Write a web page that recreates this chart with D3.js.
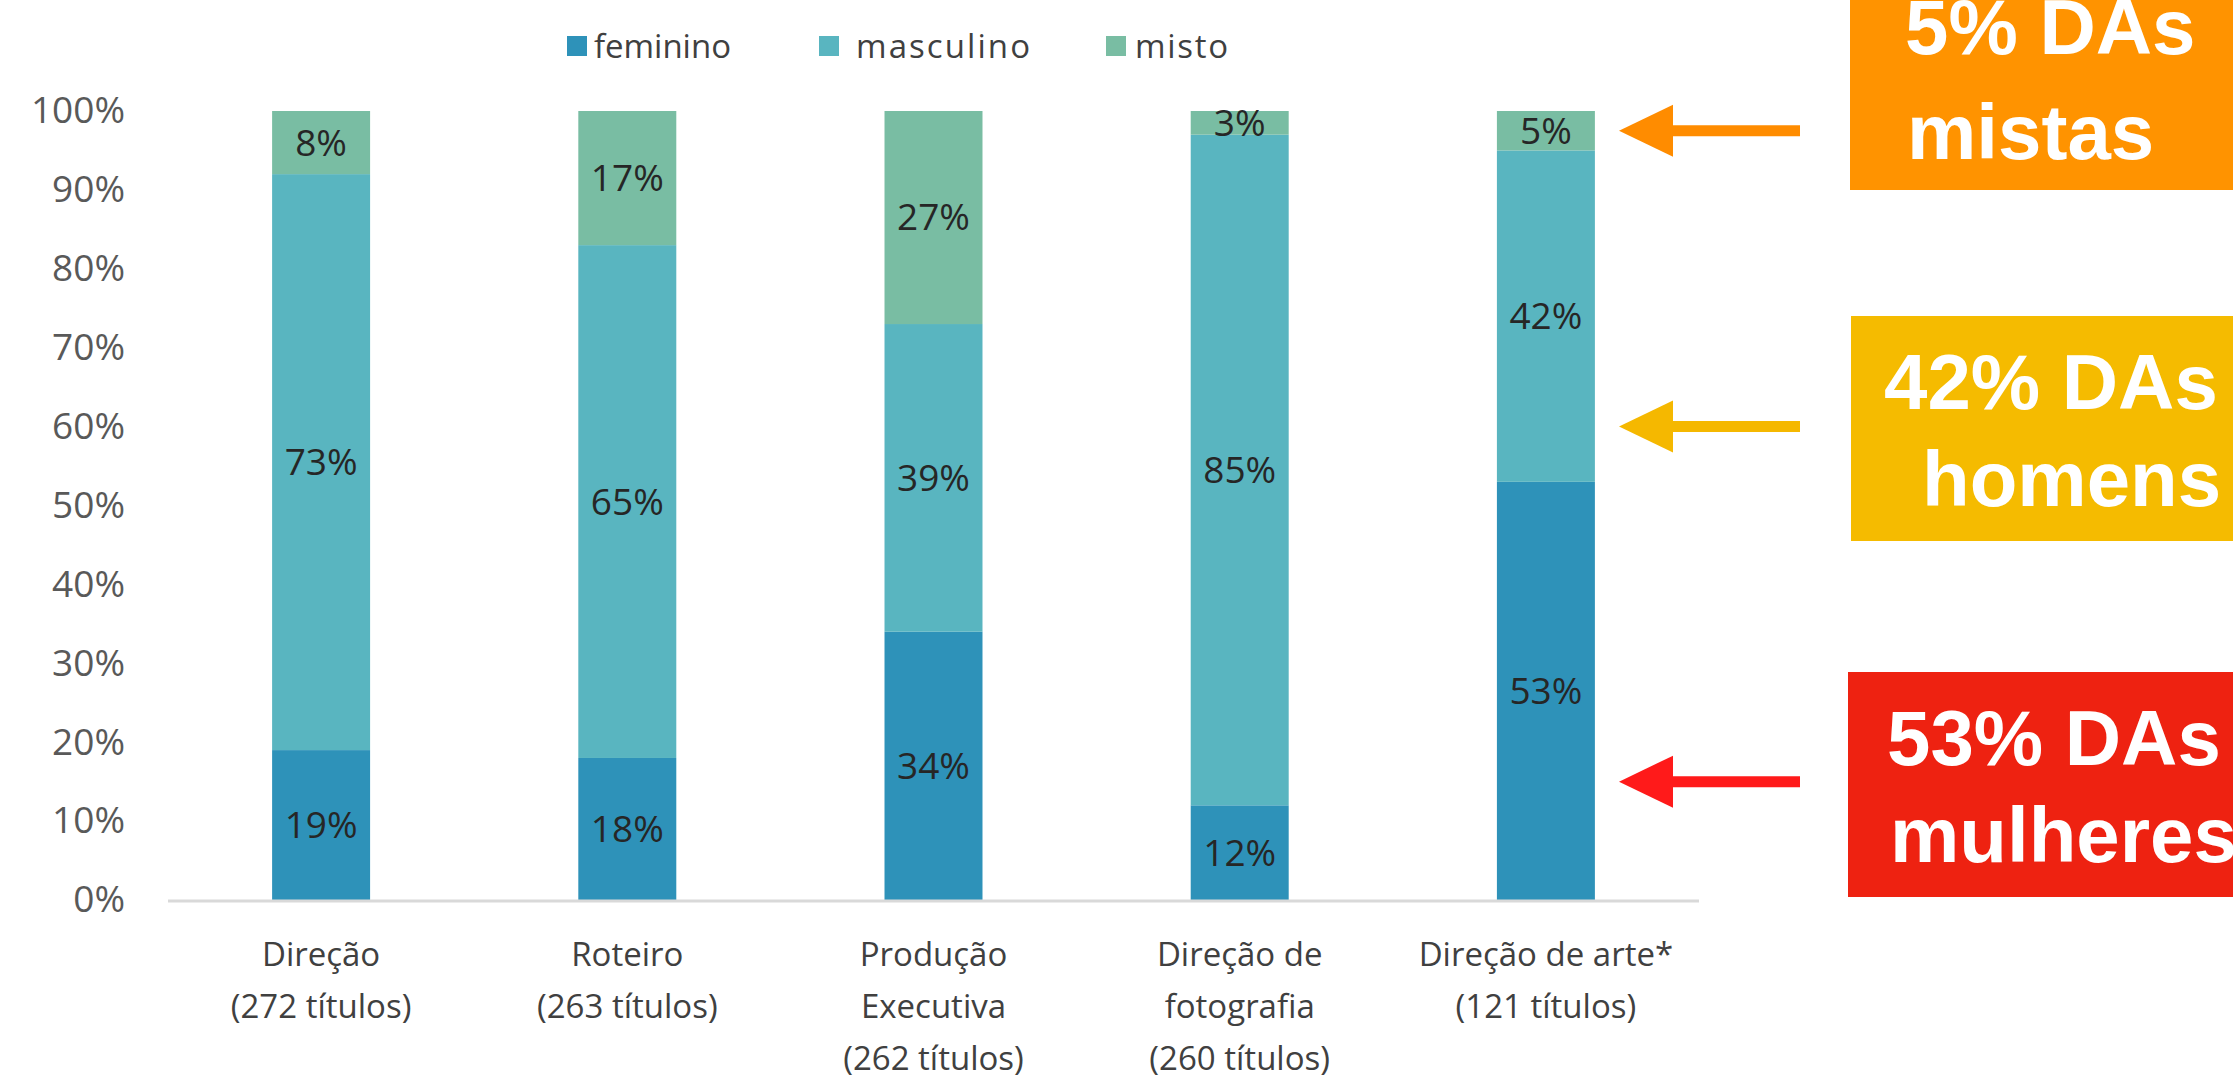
<!DOCTYPE html>
<meta charset="utf-8">
<html>
<head>
  <style>
    body { margin: 0; background: #fff; }
    svg text { font-family: "Open Sans", "Noto Sans", sans-serif; }
    .tick text { fill: #595959; font-size: 37px; }
    .lbl { fill: #262626; font-size: 37px; }
    .cat { fill: #404040; font-size: 33px; }
    .note { font-family: "Liberation Sans", Arial, sans-serif !important; font-weight: bold; fill: #fff; font-size: 78px; }
  </style>
  <script src="https://d3js.org/d3.v7.min.js"></script>
</head>
<body>
<svg width="2233" height="1081"></svg>
<script>

  // data
  var categories = ["Direção", "Roteiro", "Produção Executiva", "Direção de fotografia", "Direção de arte*"];
  var catLines = [
      ["Direção", "(272 títulos)"],
      ["Roteiro", "(263 títulos)"],
      ["Produção", "Executiva", "(262 títulos)"],
      ["Direção de", "fotografia", "(260 títulos)"],
      ["Direção de arte*", "(121 títulos)"]
  ];
  var series = ["feminino", "masculino", "misto"];
  var feminino  = [19, 18, 34, 12, 53];
  var masculino = [73, 65, 39, 85, 42];
  var misto     = [8, 17, 27, 3, 5];
  var yTicks = [0, 10, 20, 30, 40, 50, 60, 70, 80, 90, 100];

  // call-outs on the right
  var noteLines = [["5% DAs", "mistas"], ["42% DAs", "homens"], ["53% DAs", "mulheres"]];
  var noteArrowAt = [97.5, 60, 15];

  var colors = ["#2e92b9", "#59b5c0", "#79bda3"];

  var svg = d3.select("svg");

  var x = d3.scaleBand().domain(categories).range([168, 1699])
            .paddingInner(0.68).paddingOuter(0.34);
  var y = d3.scaleLinear().domain([0, 100]).range([900, 111]);

  var rows = categories.map(function(c, i) {
      return { cat: c, feminino: feminino[i], masculino: masculino[i], misto: misto[i] };
  });
  var stacked = d3.stack().keys(series)(rows);

  // y axis, labels only
  var yAxis = svg.append("g")
      .attr("transform", "translate(125,0)")
      .call(d3.axisLeft(y).tickValues(yTicks).tickSize(0).tickPadding(0)
              .tickFormat(function(d) { return d + "%"; }));
  yAxis.select(".domain").remove();

  // bars
  var layer = svg.selectAll(".layer")
      .data(stacked)
      .enter().append("g")
      .attr("class", "layer")
      .attr("fill", function(d, i) { return colors[i]; });

  layer.selectAll("rect")
      .data(function(d) { return d; })
      .enter().append("rect")
      .attr("x", function(d) { return x(d.data.cat); })
      .attr("y", function(d) { return y(d[1]); })
      .attr("width", x.bandwidth())
      .attr("height", function(d) { return y(d[0]) - y(d[1]); });

  // baseline
  svg.append("line")
     .attr("x1", 168).attr("x2", 1699)
     .attr("y1", y(0) + 1).attr("y2", y(0) + 1)
     .attr("stroke", "#d9d9d9").attr("stroke-width", 3);

  // value labels
  layer.selectAll(".lbl")
      .data(function(d) { return d; })
      .enter().append("text")
      .attr("class", "lbl")
      .attr("text-anchor", "middle")
      .attr("dy", "0.35em")
      .attr("x", function(d) { return x(d.data.cat) + x.bandwidth() / 2; })
      .attr("y", function(d) { return (y(d[0]) + y(d[1])) / 2; })
      .text(function(d) { return (d[1] - d[0]) + "%"; });

  // category labels
  var cats = svg.selectAll(".cat")
      .data(categories)
      .enter().append("text")
      .attr("class", "cat")
      .attr("text-anchor", "middle")
      .attr("x", function(d) { return x(d) + x.bandwidth() / 2; })
      .attr("y", 966);
  cats.selectAll("tspan")
      .data(function(d, i) { return catLines[i]; })
      .enter().append("tspan")
      .attr("x", function() { return d3.select(this.parentNode).attr("x"); })
      .attr("dy", function(d, i) { return i === 0 ? 0 : 52; })
      .text(function(d) { return d; });

  // legend
  var legX = [567, 819, 1106];
  var legTextX = [27, 37, 29];
  var legLen = [137, 174, 93];
  var leg = svg.selectAll(".leg")
      .data(series)
      .enter().append("g")
      .attr("transform", function(d, i) { return "translate(" + legX[i] + ",46)"; });
  leg.append("rect")
     .attr("y", -10).attr("width", 20).attr("height", 20)
     .attr("fill", function(d, i) { return colors[i]; });
  leg.append("text")
     .attr("x", function(d, i) { return legTextX[i]; })
     .attr("dy", "0.35em")
     .attr("textLength", function(d, i) { return legLen[i]; })
     .attr("fill", "#404040").attr("font-size", 33)
     .text(function(d) { return d; });

  // call-out boxes and arrows
  var boxes = [
      { x: 1850, y: 0,   h: 190, fill: "#ff9300", arrow: "#ff8c00", base: [54, 159], tx: [1905, 1907] },
      { x: 1851, y: 316, h: 225, fill: "#f5bb00", arrow: "#f5b800", base: [409, 506], tx: [1884, 1922] },
      { x: 1848, y: 672, h: 225, fill: "#ee2211", arrow: "#ff1a1a", base: [765, 862], tx: [1887, 1890] }
  ];

  boxes.forEach(function(b, i) {
      svg.append("rect")
         .attr("x", b.x).attr("y", b.y)
         .attr("width", 2233 - b.x).attr("height", b.h)
         .attr("fill", b.fill);

      noteLines[i].forEach(function(t, j) {
          svg.append("text")
             .attr("class", "note")
             .attr("x", b.tx[j]).attr("y", b.base[j])
             .text(t);
      });

      var ay = y(noteArrowAt[i]);
      svg.append("line")
         .attr("x1", 1670).attr("x2", 1800)
         .attr("y1", ay).attr("y2", ay)
         .attr("stroke", b.arrow).attr("stroke-width", 11);
      svg.append("path")
         .attr("d", "M1619," + ay + "L1673," + (ay - 26) + "L1673," + (ay + 26) + "Z")
         .attr("fill", b.arrow);
  });

</script>
</body>
</html>
